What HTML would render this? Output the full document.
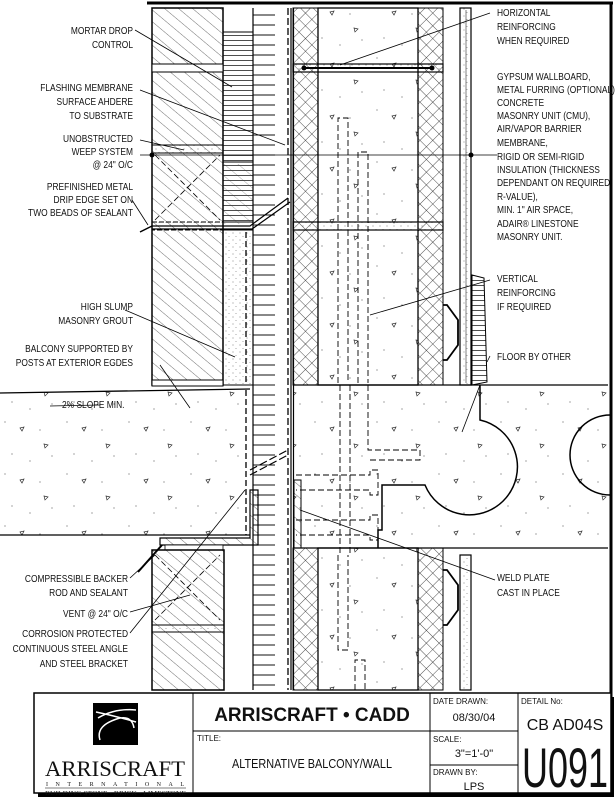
<!DOCTYPE html>
<html><head><meta charset="utf-8"><style>
html,body{margin:0;padding:0;background:#fff}
svg{display:block}
text{font-family:"Liberation Sans",sans-serif;font-size:10.5px;fill:#111}
.l{text-anchor:end}
</style></head><body>
<svg width="615" height="800" viewBox="0 0 615 800" xmlns="http://www.w3.org/2000/svg">
<defs>
<pattern id="diag" width="9" height="9" patternUnits="userSpaceOnUse" patternTransform="rotate(-50)">
<line x1="0" y1="0" x2="0" y2="9" stroke="#333" stroke-width="0.7"/></pattern>
<pattern id="cross" width="9" height="9" patternUnits="userSpaceOnUse" patternTransform="rotate(45)">
<line x1="0" y1="0" x2="0" y2="9" stroke="#222" stroke-width="0.8"/><line x1="0" y1="0" x2="9" y2="0" stroke="#222" stroke-width="0.8"/></pattern>
<pattern id="horz" width="6" height="5" patternUnits="userSpaceOnUse">
<line x1="0" y1="0.5" x2="6" y2="0.5" stroke="#222" stroke-width="0.8"/></pattern>
<pattern id="conc" width="62" height="52" patternUnits="userSpaceOnUse">
<circle cx="5" cy="6" r="0.6" fill="#666"/><circle cx="40" cy="14" r="0.6" fill="#666"/><circle cx="52" cy="40" r="0.6" fill="#666"/>
<circle cx="12" cy="38" r="0.6" fill="#666"/><circle cx="30" cy="45" r="0.6" fill="#666"/>
<path d="M20 12 l4 -1 l-2 4 z M44 28 l4 1 l-3 3 z" fill="none" stroke="#333" stroke-width="0.7"/></pattern>
<pattern id="dots" width="7" height="7" patternUnits="userSpaceOnUse">
<circle cx="2" cy="2" r="0.5" fill="#666"/><circle cx="5" cy="5.5" r="0.5" fill="#888"/></pattern>
<pattern id="ticks" width="40" height="10" patternUnits="userSpaceOnUse">
<line x1="12" y1="5" x2="35" y2="5" stroke="#111" stroke-width="1"/></pattern>
</defs>

<line x1="147" y1="3" x2="613" y2="3" stroke="#000" stroke-width="3"/>
<line x1="611" y1="2" x2="611" y2="795" stroke="#000" stroke-width="3"/>

<rect x="152" y="8" width="71" height="377" fill="url(#diag)" stroke="#000" stroke-width="1.5"/>
<rect x="152" y="64" width="71" height="8" fill="#fff" stroke="#000"/>
<rect x="152" y="145" width="71" height="8" fill="url(#dots)" stroke="#000"/>
<rect x="152" y="222" width="71" height="8" fill="url(#dots)" stroke="#000" stroke-dasharray="5 2"/>
<line x1="155" y1="155" x2="220" y2="220" stroke="#000" stroke-dasharray="6 3" stroke-width="0.8"/>
<line x1="155" y1="220" x2="220" y2="155" stroke="#000" stroke-dasharray="6 3" stroke-width="0.8"/>
<rect x="152" y="380" width="71" height="6" fill="#fff" stroke="#000"/>
<rect x="223" y="32" width="30" height="130" fill="url(#horz)" stroke="#000"/>
<rect x="223" y="162" width="30" height="60" fill="url(#horz)" stroke="#000"/>
<rect x="223" y="164" width="30" height="60" fill="url(#diag)" opacity="0.6"/>
<rect x="223" y="230" width="30" height="155" fill="url(#dots)" stroke="#000"/>
<line x1="246" y1="232" x2="246" y2="383" stroke="#000" stroke-dasharray="6 3" stroke-width="1.3"/>
<rect x="253" y="8" width="38" height="682" fill="url(#ticks)"/>
<line x1="253" y1="8" x2="253" y2="690" stroke="#000" stroke-width="1.2"/>
<line x1="288" y1="8" x2="288" y2="690" stroke="#000" stroke-dasharray="7 3" stroke-width="1.3"/>
<line x1="291" y1="8" x2="291" y2="690" stroke="#000" stroke-width="1.2"/>
<line x1="293.5" y1="8" x2="293.5" y2="690" stroke="#000" stroke-width="1.2"/>
<path d="M152 226 L250 226 L288 198 M152 229 L252 229 L290 202" fill="none" stroke="#000" stroke-width="1.2"/>
<path d="M140 232 L152 226" stroke="#000" stroke-width="1.5"/>

<rect x="293" y="8" width="25" height="377" fill="url(#cross)" stroke="#000"/>
<rect x="318" y="8" width="100" height="377" fill="url(#conc)" stroke="#000" stroke-width="1.3"/>
<rect x="418" y="8" width="25" height="377" fill="url(#cross)" stroke="#000"/>
<rect x="293" y="64" width="150" height="8" fill="url(#dots)" stroke="#000" stroke-width="1.2"/>
<rect x="293" y="222" width="150" height="8" fill="url(#dots)" stroke="#000" stroke-width="1.2"/>
<line x1="303" y1="68" x2="433" y2="68" stroke="#000" stroke-width="2"/>
<circle cx="304" cy="68" r="2.5"/><circle cx="432" cy="68" r="2.5"/>
<path d="M338 383 V118 H348 V383 M358 383 V152 H368 V383" fill="none" stroke="#000" stroke-dasharray="6 3" stroke-width="0.9"/>
<rect x="460" y="8" width="11" height="377" fill="url(#dots)" stroke="#000" stroke-width="1.2"/>
<line x1="466" y1="10" x2="466" y2="383" stroke="#000" stroke-width="0.5"/>
<circle cx="471" cy="155" r="2.5"/>
<line x1="140" y1="155" x2="497" y2="155" stroke="#000" stroke-width="0.8"/>
<circle cx="152" cy="155" r="2.5"/>
<path d="M472 275 L484 278 L487 382 L472 385 Z" fill="url(#horz)" stroke="#000"/>
<path d="M443 305 L447 305 L458 320 L458 345 L447 360 L443 360" fill="none" stroke="#000" stroke-width="1.8"/>

<path d="M0 393 L250 389 L250 535 L0 535 Z" fill="url(#conc)"/>
<line x1="0" y1="393" x2="250" y2="389" stroke="#000" stroke-width="1.3"/>
<line x1="0" y1="535" x2="250" y2="535" stroke="#000" stroke-width="1.3"/>
<line x1="246" y1="390" x2="246" y2="535" stroke="#000" stroke-dasharray="6 3" stroke-width="1.3"/>
<rect x="294" y="385" width="314" height="163" fill="url(#conc)"/>
<line x1="294" y1="385" x2="608" y2="385" stroke="#000" stroke-width="1.3"/>
<line x1="294" y1="548" x2="608" y2="548" stroke="#000" stroke-width="1.3"/>
<path d="M378 548 V530 H382 V485 H425 A48 48 0 1 0 480 420 V385" fill="none" stroke="#000" stroke-width="1.5"/>
<path d="M610 415 A40 40 0 0 0 610 495" fill="none" stroke="#000" stroke-width="1.5"/>
<path d="M340 385 V555 M350 385 V555 M368 385 V450 H420 V460 H368" fill="none" stroke="#000" stroke-dasharray="6 3" stroke-width="0.9"/>
<path d="M296 475 H370 V470 H378 V495 H370 V490 H296 M296 520 H370 V515 H378 V540 H370 V535 H296" fill="none" stroke="#000" stroke-dasharray="6 3" stroke-width="0.9"/>
<rect x="294" y="480" width="7" height="68" fill="url(#diag)" stroke="#000"/>
<path d="M250 470 L288 450 M250 475 L288 455" stroke="#000" stroke-width="1.2" stroke-dasharray="8 3"/>
<path d="M250 490 L258 490 L258 545 L160 545 L160 538 L250 538 Z" fill="url(#diag)" stroke="#000" stroke-width="1.2"/>
<rect x="165" y="545" width="58" height="5" fill="#fff" stroke="#000" stroke-width="0.8"/>
<line x1="138" y1="572" x2="162" y2="545" stroke="#000" stroke-width="2"/>

<rect x="152" y="550" width="72" height="140" fill="url(#diag)" stroke="#000" stroke-width="1.5"/>
<rect x="152" y="625" width="72" height="7" fill="url(#dots)" stroke="#000"/>
<line x1="155" y1="555" x2="220" y2="620" stroke="#000" stroke-dasharray="6 3" stroke-width="0.8"/>
<line x1="155" y1="620" x2="220" y2="555" stroke="#000" stroke-dasharray="6 3" stroke-width="0.8"/>
<rect x="293" y="548" width="25" height="142" fill="url(#cross)" stroke="#000"/>
<rect x="318" y="548" width="100" height="142" fill="url(#conc)" stroke="#000" stroke-width="1.3"/>
<rect x="418" y="548" width="25" height="142" fill="url(#cross)" stroke="#000"/>
<path d="M338 555 V650 H348 V555 M355 690 V660 H365 V690" fill="none" stroke="#000" stroke-dasharray="6 3" stroke-width="0.9"/>
<rect x="460" y="555" width="11" height="135" fill="url(#dots)" stroke="#000" stroke-width="1.2"/>
<path d="M443 570 L447 570 L458 585 L458 610 L447 625 L443 625" fill="none" stroke="#000" stroke-width="1.8"/>

<g stroke="#000" stroke-width="0.8" fill="none">
<path d="M135 30 L232 87"/><path d="M140 90 L285 145"/><path d="M140 140 L184 150"/>
<path d="M132 200 L148 225"/><path d="M125 310 L235 357"/><path d="M160 365 L190 408"/>
<path d="M50 406 L100 405"/>
<path d="M490 13 L340 65"/><path d="M490 280 L370 315"/><path d="M490 356 L487 362"/>
<path d="M480 385 L462 432"/>
<path d="M495 580 L300 510"/>
<path d="M130 578 L155 555"/><path d="M130 612 L190 595"/><path d="M130 633 L245 490"/>
</g>

<g transform="translate(133,0) scale(0.8,1)">
<text class="l" x="0" y="34">MORTAR DROP</text><text class="l" x="0" y="48">CONTROL</text>
<text class="l" x="0" y="91">FLASHING MEMBRANE</text><text class="l" x="0" y="105">SURFACE AHDERE</text><text class="l" x="0" y="119">TO SUBSTRATE</text>
<text class="l" x="0" y="142">UNOBSTRUCTED</text><text class="l" x="0" y="155">WEEP SYSTEM</text><text class="l" x="0" y="168">@ 24" O/C</text>
<text class="l" x="0" y="190">PREFINISHED METAL</text><text class="l" x="0" y="203">DRIP EDGE SET ON</text><text class="l" x="0" y="216">TWO BEADS OF SEALANT</text>
<text class="l" x="0" y="310">HIGH SLUMP</text><text class="l" x="0" y="324">MASONRY GROUT</text>
<text class="l" x="0" y="352">BALCONY SUPPORTED BY</text><text class="l" x="0" y="366">POSTS AT EXTERIOR EGDES</text>
</g>
<g transform="translate(62,0) scale(0.8,1)"><text x="0" y="408">2% SLOPE MIN.</text></g>
<g transform="translate(128,0) scale(0.8,1)">
<text class="l" x="0" y="582">COMPRESSIBLE BACKER</text><text class="l" x="0" y="596">ROD AND SEALANT</text>
<text class="l" x="0" y="617">VENT @ 24" O/C</text>
<text class="l" x="0" y="637">CORROSION PROTECTED</text><text class="l" x="0" y="652">CONTINUOUS STEEL ANGLE</text><text class="l" x="0" y="667">AND STEEL BRACKET</text>
</g>
<g transform="translate(497,0) scale(0.8,1)">
<text x="0" y="16">HORIZONTAL</text><text x="0" y="30">REINFORCING</text><text x="0" y="44">WHEN REQUIRED</text>
<text x="0" y="80">GYPSUM WALLBOARD,</text><text x="0" y="93">METAL FURRING (OPTIONAL),</text><text x="0" y="106">CONCRETE</text>
<text x="0" y="119">MASONRY UNIT (CMU),</text><text x="0" y="132">AIR/VAPOR BARRIER</text><text x="0" y="146">MEMBRANE,</text>
<text x="0" y="160">RIGID OR SEMI-RIGID</text><text x="0" y="173">INSULATION (THICKNESS</text><text x="0" y="186">DEPENDANT ON REQUIRED</text>
<text x="0" y="200">R-VALUE),</text><text x="0" y="213">MIN. 1" AIR SPACE,</text><text x="0" y="227">ADAIR® LINESTONE</text><text x="0" y="240">MASONRY UNIT.</text>
<text x="0" y="282">VERTICAL</text><text x="0" y="296">REINFORCING</text><text x="0" y="310">IF REQUIRED</text>
<text x="0" y="360">FLOOR BY OTHER</text>
<text x="0" y="581">WELD PLATE</text><text x="0" y="596">CAST IN PLACE</text>
</g>

<rect x="38" y="697" width="576" height="100" fill="#000"/>
<rect x="34" y="693" width="577" height="100" fill="#fff" stroke="#000" stroke-width="1.5"/>
<line x1="193" y1="693" x2="193" y2="793" stroke="#000"/>
<line x1="430" y1="693" x2="430" y2="793" stroke="#000"/>
<line x1="518" y1="693" x2="518" y2="793" stroke="#000"/>
<line x1="193" y1="731" x2="518" y2="731" stroke="#000"/>
<line x1="430" y1="765" x2="518" y2="765" stroke="#000"/>
<rect x="93" y="703" width="45" height="42" fill="#000"/>
<path d="M96 712 Q115 716 136 722 M100 740 Q95 725 120 718 Q132 716 134 728 M98 718 Q115 708 136 710" stroke="#fff" stroke-width="1.5" fill="none"/>
<text x="45" y="776" textLength="140" lengthAdjust="spacingAndGlyphs" style="font-family:'Liberation Serif',serif;font-size:22px">ARRISCRAFT</text>
<text x="46" y="786" textLength="138" lengthAdjust="spacing" style="font-family:'Liberation Serif',serif;font-size:6px">INTERNATIONAL</text>
<line x1="45" y1="788" x2="186" y2="788" stroke="#000" stroke-width="0.6"/>
<text x="45" y="795" textLength="141" lengthAdjust="spacingAndGlyphs" style="font-family:'Liberation Serif',serif;font-size:6.5px">BUILDING STONE · BRICK · LIMESTONE</text>
<text x="312" y="721" style="font-size:19px;font-weight:bold;text-anchor:middle">ARRISCRAFT • CADD</text>
<text x="197" y="741" style="font-size:8px">TITLE:</text>
<text x="312" y="768" textLength="160" lengthAdjust="spacingAndGlyphs" style="font-size:13px;text-anchor:middle">ALTERNATIVE BALCONY/WALL</text>
<text x="433" y="704" style="font-size:8px">DATE DRAWN:</text>
<text x="474" y="721" style="font-size:11px;text-anchor:middle">08/30/04</text>
<text x="433" y="742" style="font-size:8px">SCALE:</text>
<text x="474" y="757" style="font-size:11px;text-anchor:middle">3"=1'-0"</text>
<text x="433" y="775" style="font-size:8px">DRAWN BY:</text>
<text x="474" y="790" style="font-size:11px;text-anchor:middle">LPS</text>
<text x="521" y="704" style="font-size:8px">DETAIL No:</text>
<text x="565" y="730" style="font-size:16px;text-anchor:middle">CB AD04S</text>
<text x="522" y="787" textLength="86" lengthAdjust="spacingAndGlyphs" style="font-size:56px">U091</text>
</svg>
</body></html>
